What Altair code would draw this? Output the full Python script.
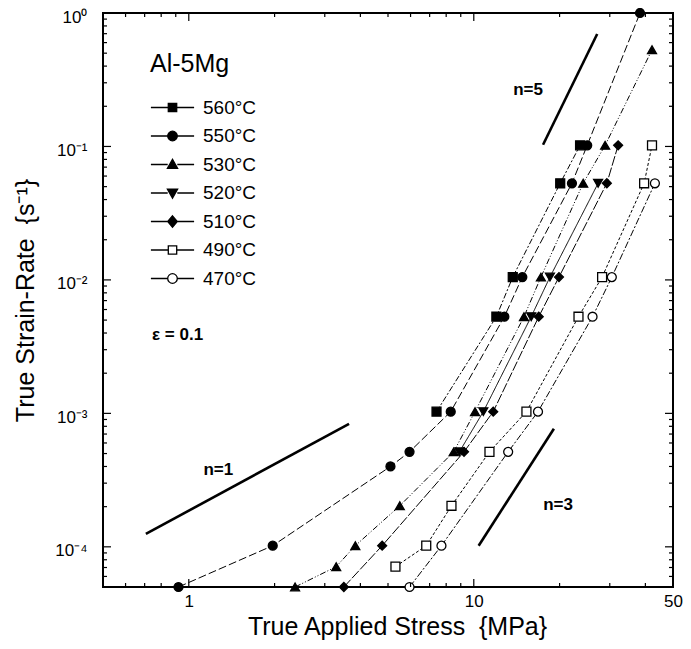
import altair as alt
import pandas as pd

FONT = "Liberation Sans"

temps = ["560°C", "550°C", "530°C", "520°C", "510°C", "490°C", "470°C"]

stress_560 = [7.4, 12.0, 13.7, 20.1, 23.6]
rate_560 = [1.03e-3, 5.3e-3, 1.05e-2, 5.3e-2, 1.02e-1]
stress_550 = [0.92, 1.97, 5.1, 5.95, 8.3, 12.8, 14.8, 22.1, 25.0, 38.3]
rate_550 = [5.0e-5, 1.02e-4, 4.0e-4, 5.15e-4, 1.03e-3, 5.3e-3, 1.05e-2, 5.3e-2, 1.02e-1, 1.0]
stress_530 = [2.36, 3.29, 3.84, 5.5, 8.5, 10.1, 15.0, 17.2, 24.2, 28.9, 42.2]
rate_530 = [5.0e-5, 7.1e-5, 1.02e-4, 2.03e-4, 5.15e-4, 1.03e-3, 5.3e-3, 1.05e-2, 5.3e-2, 1.02e-1, 0.53]
stress_520 = [8.9, 10.8, 15.9, 18.5, 27.3]
rate_520 = [5.15e-4, 1.03e-3, 5.3e-3, 1.05e-2, 5.3e-2]
stress_510 = [3.5, 4.77, 9.24, 11.7, 16.9, 19.9, 29.3, 32.1]
rate_510 = [5.0e-5, 1.02e-4, 5.15e-4, 1.03e-3, 5.3e-3, 1.05e-2, 5.3e-2, 1.02e-1]
stress_490 = [5.31, 6.81, 8.35, 11.35, 15.3, 23.3, 28.2, 39.6, 42.2]
rate_490 = [7.1e-5, 1.02e-4, 2.03e-4, 5.15e-4, 1.03e-3, 5.3e-3, 1.05e-2, 5.3e-2, 1.02e-1]
stress_470 = [5.95, 7.7, 13.2, 16.8, 26.1, 30.5, 43.2]
rate_470 = [5.0e-5, 1.02e-4, 5.15e-4, 1.03e-3, 5.3e-3, 1.05e-2, 5.3e-2]

# slope guide lines
guide_names = ["n=1", "n=1", "n=3", "n=3", "n=5", "n=5"]
guide_x = [0.707, 3.65, 10.4, 19.1, 17.5, 27.1]
guide_y = [1.25e-4, 8.34e-4, 1.02e-4, 7.66e-4, 0.103, 0.696]

# annotations
note_labels = ["n=1", "n=3", "n=5"]
note_x = [1.27, 19.75, 15.5]
note_y = [3.46e-4, 1.89e-4, 0.243]
alloy_label = ["Al-5Mg"]
alloy_x = [0.731]
alloy_y = [0.361]
strain_label = ["ε = 0.1"]
strain_x = [0.743]
strain_y = [3.56e-3]

# axis ticks
x_label_values = [1, 10, 50]
x_major_ticks = [1, 10]
x_minor_ticks = [0.6, 0.7, 0.8, 0.9, 2, 3, 4, 5, 6, 7, 8, 9, 20, 30, 40]
y_label_values = [1e-4, 1e-3, 1e-2, 1e-1, 1]
y_major_ticks = [1e-4, 1e-3, 1e-2, 1e-1]
y_minor_ticks = [6e-5, 7e-5, 8e-5, 9e-5,
                 2e-4, 3e-4, 4e-4, 5e-4, 6e-4, 7e-4, 8e-4, 9e-4,
                 2e-3, 3e-3, 4e-3, 5e-3, 6e-3, 7e-3, 8e-3, 9e-3,
                 2e-2, 3e-2, 4e-2, 5e-2, 6e-2, 7e-2, 8e-2, 9e-2,
                 0.2, 0.3, 0.4, 0.5, 0.6, 0.7, 0.8, 0.9]

# styles
point_shapes = ["square", "circle", "triangle-up", "triangle-down", "diamond", "square", "circle"]
point_fills = ["black", "black", "black", "black", "black", "white", "white"]
line_dashes = [[6, 2, 2, 2], [8, 3], [6, 2, 1, 2, 1, 2], [1, 0], [10, 2], [3, 2], [7, 2, 2, 2]]
LINE = "M-3.6,0H-0.8M0.8,0H3.6"
legend_paths = [
    LINE + "M-0.7,-0.7H0.7V0.7H-0.7Z",
    LINE + "M-0.8,0A0.8,0.8,0,1,0,0.8,0A0.8,0.8,0,1,0,-0.8,0Z",
    LINE + "M0,-0.85L0.85,0.65H-0.85Z",
    LINE + "M0,0.85L0.85,-0.65H-0.85Z",
    LINE + "M0,-0.95L0.8,0L0,0.95L-0.8,0Z",
    LINE + "M-0.7,-0.7H0.7V0.7H-0.7Z",
    LINE + "M-0.8,0A0.8,0.8,0,1,0,0.8,0A0.8,0.8,0,1,0,-0.8,0Z",
]

series = [(temps[0], stress_560, rate_560), (temps[1], stress_550, rate_550),
          (temps[2], stress_530, rate_530), (temps[3], stress_520, rate_520),
          (temps[4], stress_510, rate_510), (temps[5], stress_490, rate_490),
          (temps[6], stress_470, rate_470)]
rows = []
for t, xs, ys in series:
    for a, b in zip(xs, ys):
        rows.append({"temp": t, "stress": a, "rate": b})
df = pd.DataFrame(rows)

df_guides = pd.DataFrame({"g": guide_names, "stress": guide_x, "rate": guide_y})
df_notes = pd.DataFrame({"label": note_labels, "stress": note_x, "rate": note_y})
df_alloy = pd.DataFrame({"label": alloy_label, "stress": alloy_x, "rate": alloy_y})
df_strain = pd.DataFrame({"label": strain_label, "stress": strain_x, "rate": strain_y})

W, H = 570, 574

xscale = alt.Scale(type="log", domain=[0.5, 50], nice=False)
yscale = alt.Scale(type="log", domain=[5e-5, 1], nice=False)

xaxis = alt.Axis(values=x_label_values, format="d", ticks=False, domain=False, grid=False,
                 labelFontSize=17, labelPadding=6, labelFont=FONT, labelColor="black",
                 labelOverlap=False, labelFlush=False,
                 title="True Applied Stress\u00a0 {MPa}", titleFont=FONT, titleFontSize=25,
                 titleFontWeight="normal", titleColor="black", titlePadding=5,
                 titleX=294, titleAlign="center")
ylabel_expr = ("datum.value >= 0.5 ? '10⁰' : datum.value >= 0.05 ? '10⁻¹' : "
               "datum.value >= 0.005 ? '10⁻²' : datum.value >= 0.0005 ? '10⁻³' : '10⁻⁴'")
yaxis = alt.Axis(values=y_label_values, labelExpr=ylabel_expr, ticks=False, domain=False, grid=False,
                 labelFontSize=17, labelPadding=16, labelFont=FONT, labelColor="black",
                 labelOverlap=False, labelFlush=False, labelOffset=4,
                 title="True Strain-Rate\u00a0 {s⁻¹}", titleFont=FONT, titleFontSize=25,
                 titleFontWeight="normal", titleColor="black", titlePadding=16)


def X(f):
    return alt.X(f"{f}:Q", scale=xscale, axis=xaxis)


def Y(f):
    return alt.Y(f"{f}:Q", scale=yscale, axis=yaxis)


lines = alt.Chart(df).mark_line(color="black", strokeWidth=1).encode(
    x=X("stress"), y=Y("rate"),
    strokeDash=alt.StrokeDash("temp:N", scale=alt.Scale(domain=temps, range=line_dashes), legend=None),
    detail="temp:N",
)

points = alt.Chart(df).mark_point(size=80, stroke="black", strokeWidth=1.3, opacity=1).encode(
    x=X("stress"), y=Y("rate"),
    shape=alt.Shape("temp:N", scale=alt.Scale(domain=temps, range=point_shapes), legend=None),
    fill=alt.Fill("temp:N", scale=alt.Scale(domain=temps, range=point_fills), legend=None),
)

leg = alt.Legend(orient="none", legendX=60, legendY=85, title=None, labelFont=FONT,
                 labelFontSize=19, labelColor="black", labelOffset=21, rowPadding=8.5,
                 padding=0, symbolSize=144, symbolStrokeColor="black", symbolStrokeWidth=1.3,
                 symbolOpacity=1, labelLimit=0)
legend_layer = alt.Chart(df).mark_point(size=144, stroke="black", strokeWidth=1.3, opacity=0).encode(
    x=X("stress"), y=Y("rate"),
    shape=alt.Shape("temp:N", scale=alt.Scale(domain=temps, range=legend_paths), legend=leg),
    fill=alt.Fill("temp:N", scale=alt.Scale(domain=temps, range=point_fills), legend=leg),
    stroke=alt.Stroke("temp:N", scale=alt.Scale(domain=temps, range=["black"] * 7), legend=leg),
)

guides = alt.Chart(df_guides).mark_line(color="black", strokeWidth=2.6).encode(
    x=X("stress"), y=Y("rate"), detail="g:N")

notes = alt.Chart(df_notes).mark_text(font=FONT, fontSize=17, fontWeight="bold", align="center",
                                      baseline="alphabetic", color="black").encode(
    x=X("stress"), y=Y("rate"), text="label:N")
alloy = alt.Chart(df_alloy).mark_text(font=FONT, fontSize=25, align="left",
                                      baseline="alphabetic", color="black").encode(
    x=X("stress"), y=Y("rate"), text="label:N")
strain = alt.Chart(df_strain).mark_text(font=FONT, fontSize=17, fontWeight="bold", align="left",
                                        baseline="alphabetic", color="black").encode(
    x=X("stress"), y=Y("rate"), text="label:N")

tick_layers = []
for vals, ln in [(x_minor_ticks, 4), (x_major_ticks, 8)]:
    d = pd.DataFrame({"v": vals})
    tick_layers.append(alt.Chart(d).mark_rule(color="black", strokeWidth=1.2).encode(
        x=X("v"), y=alt.value(H), y2=alt.value(H - ln)))
    tick_layers.append(alt.Chart(d).mark_rule(color="black", strokeWidth=1.2).encode(
        x=X("v"), y=alt.value(0), y2=alt.value(ln)))
for vals, ln in [(y_minor_ticks, 4), (y_major_ticks, 8)]:
    d = pd.DataFrame({"v": vals})
    tick_layers.append(alt.Chart(d).mark_rule(color="black", strokeWidth=1.2).encode(
        y=Y("v"), x=alt.value(0), x2=alt.value(ln)))
    tick_layers.append(alt.Chart(d).mark_rule(color="black", strokeWidth=1.2).encode(
        y=Y("v"), x=alt.value(W), x2=alt.value(W - ln)))

chart = alt.layer(lines, guides, points, legend_layer, notes, alloy, strain, *tick_layers).resolve_scale(
    shape="independent", fill="independent", stroke="independent", strokeDash="independent"
).properties(
    width=W, height=H,
    autosize=alt.AutoSizeParams(type="none"),
    padding={"left": 95, "top": 5, "right": 10, "bottom": 54},
    background="white",
).configure_view(stroke="black", strokeWidth=2)

chart.save("out.html", embed_options={"renderer": "svg", "actions": False})
